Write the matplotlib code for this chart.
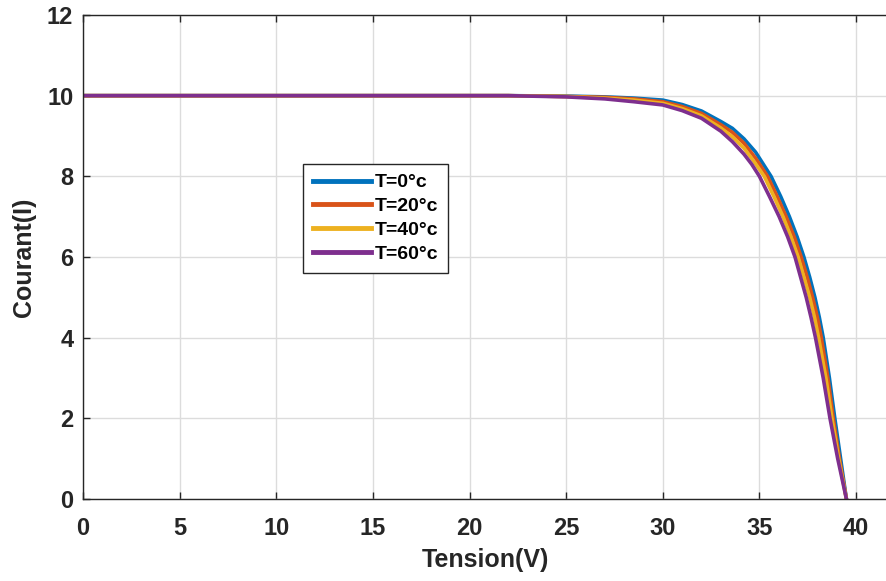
import matplotlib
matplotlib.use("Agg")
import matplotlib.pyplot as plt

# I-V curves (Tension in V, Courant in A)
v_t0 = [0, 22, 25, 27, 28.5, 30, 31, 32, 33, 33.6, 34.2, 34.8, 35.2, 35.6, 36.1, 36.55, 36.95,
        37.3, 37.6, 37.87, 38.1, 38.3, 38.62, 38.9, 39.2, 39.5]
i_t0 = [10, 10, 9.99, 9.97, 9.94, 9.89, 9.78, 9.62, 9.36, 9.19, 8.93, 8.6, 8.3, 8.0, 7.5, 7.0, 6.5,
        6.0, 5.5, 5.0, 4.5, 4.0, 3.0, 2.0, 1.0, 0]

v_t20 = [0, 22, 25, 27, 28.5, 30, 31, 32, 33, 33.6, 34.2, 34.8, 35.42, 35.92, 36.38, 36.8,
         37.16, 37.47, 37.75, 38.0, 38.2, 38.54, 38.82, 39.14, 39.5]
i_t20 = [10, 10, 9.98, 9.96, 9.92, 9.85, 9.73, 9.56, 9.28, 9.09, 8.82, 8.45, 8.0, 7.5, 7.0, 6.5,
         6.0, 5.5, 5.0, 4.5, 4.0, 3.0, 2.0, 1.0, 0]

v_t40 = [0, 22, 25, 27, 28.5, 30, 31, 32, 33, 33.6, 34.2, 34.7, 35.25, 35.75, 36.22, 36.63,
         37.0, 37.3, 37.6, 37.85, 38.06, 38.44, 38.75, 39.1, 39.5]
i_t40 = [10, 10, 9.98, 9.94, 9.89, 9.81, 9.68, 9.5, 9.2, 8.98, 8.7, 8.38, 8.0, 7.5, 7.0, 6.5,
         6.0, 5.5, 5.0, 4.5, 4.0, 3.0, 2.0, 1.0, 0]

v_t60 = [0, 22, 25, 27, 28.5, 30, 31, 32, 33, 33.6, 34.2, 34.6, 35.0, 35.52, 36.02, 36.46,
         36.84, 37.13, 37.42, 37.67, 37.9, 38.3, 38.65, 39.05, 39.5]
i_t60 = [10, 10, 9.97, 9.92, 9.85, 9.77, 9.63, 9.44, 9.12, 8.86, 8.55, 8.3, 8.0, 7.5, 7.0, 6.5,
         6.0, 5.5, 5.0, 4.5, 4.0, 3.0, 2.0, 1.0, 0]

labels = ["T=0°c", "T=20°c", "T=40°c", "T=60°c"]
colors = ["#0072BD", "#D95319", "#EDB120", "#7E2F8E"]

x_ticks = [0, 5, 10, 15, 20, 25, 30, 35, 40]
y_ticks = [0, 2, 4, 6, 8, 10, 12]

plt.rcParams["font.family"] = ["Liberation Sans", "DejaVu Sans"]
plt.rcParams["font.weight"] = "bold"

fig = plt.figure(figsize=(8.87, 5.81), dpi=100)
ax = fig.add_axes([83 / 887, 82 / 581, 1 - 83 / 887, 484 / 581])

series = [(v_t0, i_t0), (v_t20, i_t20), (v_t40, i_t40), (v_t60, i_t60)]
for (v, i), lab, col in zip(series, labels, colors):
    ax.plot(v, i, color=col, lw=2.6, label=lab, solid_joinstyle="round")

ax.set_xlim(0, 41.6)
ax.set_ylim(0, 12)
ax.set_xticks(x_ticks)
ax.set_yticks(y_ticks)
ax.grid(True, color="#dcdcdc", lw=1)
ax.set_axisbelow(True)

for side in ["left", "bottom", "top"]:
    ax.spines[side].set_color("#262626")
    ax.spines[side].set_linewidth(1.0)
ax.spines["right"].set_visible(False)

ax.tick_params(direction="in", length=5, width=1, colors="#262626",
               top=True, right=False, labelsize=17)
for lbl in ax.get_xticklabels() + ax.get_yticklabels():
    lbl.set_fontweight("bold")
ax.tick_params(axis="x", pad=13)
ax.tick_params(axis="y", pad=7)

ax.set_xlabel("Tension(V)", fontsize=18, fontweight="bold", color="#262626", labelpad=6)
ax.set_ylabel("Courant(I)", fontsize=18, fontweight="bold", color="#262626", labelpad=8)

leg = ax.legend(loc="upper left", bbox_to_anchor=((303 - 83) / 804, (499 - 164) / 484),
                frameon=True, fancybox=False, edgecolor="#262626", framealpha=1,
                prop={"weight": "bold", "size": 14}, handlelength=3.0,
                handletextpad=0.2, borderpad=0.5, labelspacing=0.32,
                borderaxespad=0)
leg.get_frame().set_linewidth(1.0)
for line in leg.get_lines():
    line.set_linewidth(3.5)

fig.savefig("out.png", dpi=100)
